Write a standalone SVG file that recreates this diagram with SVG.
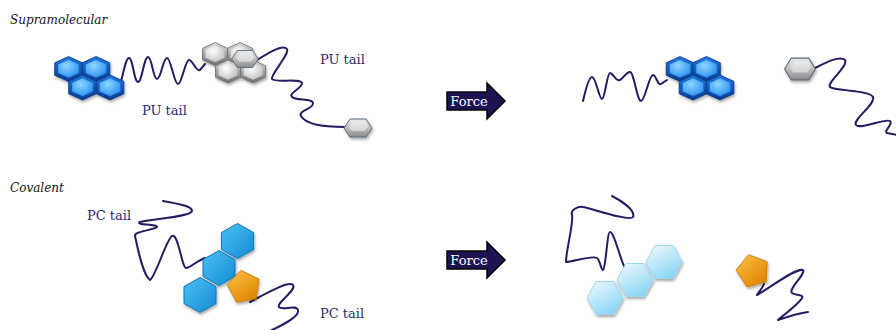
<svg xmlns="http://www.w3.org/2000/svg" xmlns:xlink="http://www.w3.org/1999/xlink" width="896" height="330" viewBox="0 0 896 330">
  <defs>
    <style>
      .title { font-family: "DejaVu Serif", "Liberation Serif", serif; font-style: italic; font-size: 12px; fill: #141414; }
      .label { font-family: "DejaVu Serif", "Liberation Serif", serif; font-size: 13px; fill: #2b2a6b; }
      .force-text { font-family: "DejaVu Serif", "Liberation Serif", serif; font-size: 13px; fill: #ffffff; text-anchor: middle; }
      .tail { fill: none; stroke: #221c63; stroke-width: 2; stroke-linecap: round; stroke-linejoin: round; }
      .force { fill: #1c1452; stroke: #050505; stroke-width: 1.5; }
    </style>
    <!-- gradients -->
    <linearGradient id="blueSide" x1="0" y1="0" x2="0" y2="1">
      <stop offset="0" stop-color="#1e78e0"/>
      <stop offset="1" stop-color="#073a8e"/>
    </linearGradient>
    <radialGradient id="blueFace" cx="0.4" cy="0.35" r="0.7">
      <stop offset="0" stop-color="#8ed6ff"/>
      <stop offset="1" stop-color="#2a90f0"/>
    </radialGradient>
    <linearGradient id="greySide" x1="0" y1="0" x2="0" y2="1">
      <stop offset="0" stop-color="#dcdcdc"/>
      <stop offset="1" stop-color="#6c6c6c"/>
    </linearGradient>
    <radialGradient id="greyFace" cx="0.4" cy="0.35" r="0.75">
      <stop offset="0" stop-color="#ffffff"/>
      <stop offset="1" stop-color="#bcbcbc"/>
    </radialGradient>
    <linearGradient id="greyFlat" x1="0" y1="0" x2="0" y2="1">
      <stop offset="0" stop-color="#eeeeee"/>
      <stop offset="0.5" stop-color="#bdbdbd"/>
      <stop offset="1" stop-color="#8c8c8c"/>
    </linearGradient>
    <linearGradient id="cyanHex" x1="0" y1="0" x2="1" y2="1">
      <stop offset="0" stop-color="#4cc0f2"/>
      <stop offset="1" stop-color="#138bd4"/>
    </linearGradient>
    <linearGradient id="paleHex" x1="0" y1="0" x2="0.6" y2="1">
      <stop offset="0" stop-color="#f2fbff"/>
      <stop offset="1" stop-color="#8cd6f4"/>
    </linearGradient>
    <linearGradient id="orange" x1="0" y1="0" x2="0.7" y2="1">
      <stop offset="0" stop-color="#fbc24a"/>
      <stop offset="1" stop-color="#e08600"/>
    </linearGradient>
    <filter id="soft" x="-30%" y="-30%" width="160%" height="160%">
      <feGaussianBlur in="SourceAlpha" stdDeviation="1.5"/>
      <feOffset dx="1" dy="1.5" result="b"/>
      <feComponentTransfer><feFuncA type="linear" slope="0.35"/></feComponentTransfer>
      <feMerge><feMergeNode/><feMergeNode in="SourceGraphic"/></feMerge>
    </filter>

    <!-- hexagon shapes -->
    <polygon id="hexBlueOuter" points="0,-12.5 13.8,-6.2 13.8,6.2 0,12.5 -13.8,6.2 -13.8,-6.2" fill="url(#blueSide)" stroke="#06357f" stroke-width="0.8"/>
    <polygon id="hexBlueInner" points="0,-9.5 10.5,-4.8 10.5,4 0,8.7 -10.5,4 -10.5,-4.8" fill="url(#blueFace)" stroke="#1a6fd0" stroke-width="0.6"/>
    <g id="blueCell">
      <use xlink:href="#hexBlueOuter"/>
      <use xlink:href="#hexBlueInner"/>
    </g>
    <polygon id="hexGreyOuter" points="0,-11.5 12.5,-5.7 12.5,5.7 0,11.5 -12.5,5.7 -12.5,-5.7" fill="url(#greySide)" stroke="#6d6d6d" stroke-width="0.8"/>
    <polygon id="hexGreyInner" points="0,-9 9.5,-4.5 9.5,3.8 0,8.3 -9.5,3.8 -9.5,-4.5" fill="url(#greyFace)"/>
    <g id="greyCell">
      <use xlink:href="#hexGreyOuter"/>
      <use xlink:href="#hexGreyInner"/>
    </g>
    <!-- flat-top grey end group -->
    <g id="greyEnd">
      <polygon points="-14,0 -8,-9 8,-9 14,0 8,9 -8,9" fill="url(#greyFlat)" stroke="#5b6b7c" stroke-width="1"/>
      <polygon points="-9,-1 -5,-6.5 7,-6.5 10,-1 6,3 -6,3" fill="#f4f4f4" opacity="0.55"/>
    </g>
    <polygon id="hexCyan" points="0,-17.5 16,-8.5 16,8.5 0,17.5 -16,8.5 -16,-8.5" fill="url(#cyanHex)" stroke="#0f76b8" stroke-width="1"/>
    <polygon id="hexPale" points="-18,0 -9,-16.5 9,-16.5 18,0 9,16.5 -9,16.5" fill="url(#paleHex)" stroke="#9fd6ee" stroke-width="1"/>
    <path id="pentagon" d="M-3,-16.7 L15,-8 L12.2,11.8 L-7.4,15.3 L-16.8,-2.4 Z" fill="url(#orange)" stroke="#c77800" stroke-width="0.8"/>
  </defs>

  <rect width="896" height="330" fill="#ffffff"/>

  <!-- section titles -->
  <text class="title" x="10" y="24">Supramolecular</text>
  <text class="title" x="10" y="192">Covalent</text>

  <!-- polymer tails -->
  <g id="tails">
    <path class="tail" d="M121,82 C124,70 126,58 129,58 C133,58 134,82 138,82 C142,82 144,57 148,57 C152,57 153,79 157,79 C161,79 163,58 167,58 C171,58 174,84 178,84 C182,84 185,60 189,60 C193,60 196,72 200,70 L205,64"/>
    <path class="tail" d="M257,60 C270,52 283,44 287,49 C290,54 270,75 272,79 C275,83 300,78 302,83 C303,88 288,93 292,97 C296,101 312,98 313,103 C314,109 298,110 301,116 C305,123 318,127 345,127"/>
    <path class="tail" d="M583,101 C586,88 589,77 592,77 C596,77 599,99 602,99 C605,99 607,73 610,73 C613,73 616,82 620,80 C624,78 626,72 630,72 C634,72 637,101 641,101 C645,101 649,75 653,75 C656,75 658,86 661,84 L667,80"/>
    <path class="tail" d="M815,68 C825,63 840,55 845,60 C849,66 826,83 830,87 C834,91 870,90 873,97 C876,104 852,120 856,125 C860,130 885,118 890,121 C894,124 883,131 887,133 L897,135"/>
    <path class="tail" d="M163,201 C178,204 192,206 192,211 C191,217 150,219 140,222 C134,225 158,224 157,227 C155,230 134,231 135,236 C138,250 143,275 150,280 C156,276 166,240 172,236 C178,232 182,268 186,268 C190,268 198,260 205,258"/>
    <path class="tail" d="M250,302 C262,296 288,280 293,285 C297,290 276,303 279,307 C282,311 296,304 298,310 C300,316 285,324 270,331"/>
    <path class="tail" d="M612,196 C620,200 636,210 633,217 C630,222 590,208 583,207 C578,206 570,210 572,215 C574,222 566,250 566,262 C572,262 592,255 597,258 C600,260 601,270 603,270 C606,268 607,232 610,232 C614,232 620,258 624,266"/>
    <path class="tail" d="M764,284 C762,289 758,293 757,295 C770,288 795,268 803,270 C806,274 788,289 792,293 C796,296 804,294 802,298 C799,304 781,317 778,320 C790,316 800,313 808,312"/>
  </g>

  <!-- supramolecular, intact -->
  <g id="blue-stack-left" filter="url(#soft)">
    <use xlink:href="#blueCell" x="68.5" y="69"/>
    <use xlink:href="#blueCell" x="96" y="69"/>
    <use xlink:href="#blueCell" x="82.5" y="87.5"/>
    <use xlink:href="#blueCell" x="110" y="87.5"/>
  </g>
  <g id="grey-stack" filter="url(#soft)">
    <use xlink:href="#greyCell" x="215" y="54"/>
    <use xlink:href="#greyCell" x="240" y="54"/>
    <use xlink:href="#greyCell" x="228" y="71.5"/>
    <use xlink:href="#greyCell" x="253" y="71.5"/>
    <use xlink:href="#greyEnd" transform="translate(245,59) scale(0.95,0.95)"/>
  </g>
  <g id="grey-end-left" filter="url(#soft)">
    <use xlink:href="#greyEnd" transform="translate(358,128)"/>
  </g>
  <text class="label" x="142" y="115">PU tail</text>
  <text class="label" x="320" y="64">PU tail</text>

  <!-- force arrows -->
  <g id="force-top">
    <path class="force" d="M447,92 H487 V83 L505,101 L487,119 V110 H447 Z"/>
    <text class="force-text" x="469" y="106">Force</text>
  </g>
  <g id="force-bottom">
    <path class="force" d="M447,251 H487 V242 L505,260 L487,278 V269 H447 Z"/>
    <text class="force-text" x="469" y="265">Force</text>
  </g>

  <!-- supramolecular, separated -->
  <g id="blue-stack-right" filter="url(#soft)">
    <use xlink:href="#blueCell" x="680" y="69"/>
    <use xlink:href="#blueCell" x="706.5" y="69"/>
    <use xlink:href="#blueCell" x="693" y="87.5"/>
    <use xlink:href="#blueCell" x="720" y="87.5"/>
  </g>
  <g id="grey-end-right" filter="url(#soft)">
    <use xlink:href="#greyEnd" transform="translate(800,69) scale(1.1,1.2)"/>
  </g>

  <!-- covalent, intact -->
  <g id="cyan-chain" filter="url(#soft)">
    <use xlink:href="#hexCyan" x="237.5" y="241"/>
    <use xlink:href="#hexCyan" x="219" y="268"/>
    <use xlink:href="#hexCyan" x="200" y="295"/>
  </g>
  <g id="pentagon-left" filter="url(#soft)">
    <use xlink:href="#pentagon" transform="translate(244,287)"/>
  </g>
  <text class="label" x="87" y="220">PC tail</text>
  <text class="label" x="320" y="318">PC tail</text>

  <!-- covalent, separated -->
  <g id="pale-chain" filter="url(#soft)">
    <use xlink:href="#hexPale" x="664" y="262"/>
    <use xlink:href="#hexPale" x="635" y="280"/>
    <use xlink:href="#hexPale" x="605" y="298"/>
  </g>
  <g id="pentagon-right" filter="url(#soft)">
    <use xlink:href="#pentagon" transform="translate(753,271) rotate(-5)"/>
  </g>
</svg>
